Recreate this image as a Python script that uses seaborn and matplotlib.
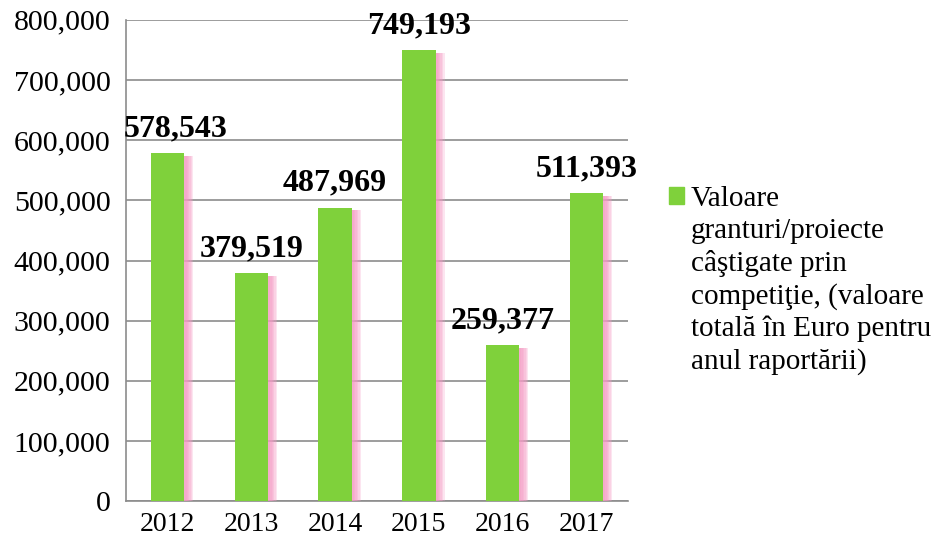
import numpy as np
import pandas as pd
import matplotlib
matplotlib.use("Agg")
import matplotlib.pyplot as plt
import matplotlib.patheffects as pe
from matplotlib.transforms import IdentityTransform
from matplotlib.ticker import FixedLocator, StrMethodFormatter
import seaborn as sb

years = ["2012", "2013", "2014", "2015", "2016", "2017"]
values = [578543, 379519, 487969, 749193, 259377, 511393]
legend_first = "Valoare"
legend_rest = "granturi/proiecte\ncâştigate prin\ncompetiţie, (valoare\ntotală în Euro pentru\nanul raportării)"
y_ticks = [0, 100000, 200000, 300000, 400000, 500000, 600000, 700000, 800000]

sb.set_style("white")
plt.rcParams['font.family'] = ['Liberation Serif', 'DejaVu Serif']
plt.rcParams['text.color'] = 'black'

df = pd.DataFrame({"year": years, "value": values})

fig = plt.figure(figsize=(9.39, 5.49), dpi=100)
ax = fig.add_axes([0.134, 0.087, 0.535, 0.877])

green = "#7fd13b"
pink = "#f59ac4"
sb.barplot(data=df, x="year", y="value", color=green, width=0.4, ax=ax,
           saturation=1, linewidth=0, edgecolor="none", zorder=3)
# soft pink shadow to the right of each bar
shadow = [pe.SimplePatchShadow(offset=(dx, -2.0), shadow_rgbFace=pink, alpha=0.25)
          for dx in (1.5, 2.5, 3.5, 4.5, 5.5, 6.5)]
for p in ax.patches:
    p.set_path_effects(shadow + [pe.Normal()])

labels = ax.bar_label(ax.containers[0], labels=[f"{v:,}" for v in values], padding=7,
                      fontsize=23, fontweight="bold", color="black")
# first label is pushed right so it clears the value axis
labels[0].xyann = (6, 7)

ax.set_ylim(0, 800000)
ax.set_xlim(-0.5, 5.5)
ax.yaxis.set_major_locator(FixedLocator(y_ticks))
ax.yaxis.set_major_formatter(StrMethodFormatter("{x:,.0f}"))
ax.grid(axis="y", color="#8c8c8c", linewidth=1.2, zorder=0)
ax.set_axisbelow(True)

ax.xaxis.set_minor_locator(FixedLocator(np.arange(-0.5, 6, 1)))
ax.tick_params(axis="x", which="major", length=0, labelsize=20, pad=8, labelcolor="black")
ax.tick_params(axis="x", which="minor", length=7, color="#8c8c8c", width=1.2)
ax.tick_params(axis="y", length=7, color="#8c8c8c", width=1.2, labelsize=21.5, pad=4,
               labelcolor="black")
ax.set_xlabel("")
ax.set_ylabel("")

for s in ["top", "right"]:
    ax.spines[s].set_visible(False)
for s in ["left", "bottom"]:
    ax.spines[s].set_color("#8c8c8c")
    ax.spines[s].set_linewidth(1.2)

handle = plt.Rectangle((0, 0), 1, 1, color=green)
leg = ax.legend([handle], [legend_first], loc="upper left", bbox_to_anchor=(0.712, 0.661),
                bbox_transform=fig.transFigure, frameon=False, fontsize=21,
                handlelength=0.52, handleheight=0.52, handletextpad=0.25,
                borderpad=0, borderaxespad=0)

# remaining legend lines go right under the first one
fig.canvas.draw()
bb = leg.get_texts()[0].get_window_extent()
fig.text(bb.x0, bb.y0 - 6, legend_rest, transform=IdentityTransform(),
         ha="left", va="top", fontsize=21, linespacing=1.28)

fig.savefig("out.png", dpi=100)
